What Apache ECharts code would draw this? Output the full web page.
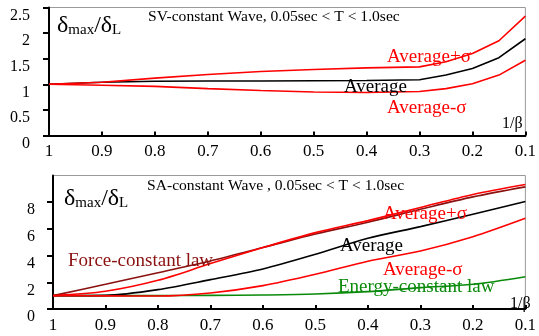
<!DOCTYPE html>
<html>
<head>
<meta charset="utf-8">
<script src="https://cdn.jsdelivr.net/npm/echarts@6/dist/echarts.min.js"></script>
<style>
  html, body { margin: 0; padding: 0; background: #fff; }
  #chart { width: 539px; height: 336px; }
</style>
</head>
<body>
<div id="chart"></div>
<script>
// top panel: SV-constant wave
var svX = [1, 0.9, 0.8, 0.7, 0.6, 0.5, 0.4, 0.3, 0.25, 0.2, 0.15, 0.1];
var svAvg = [1, 1.04, 1.06, 1.065, 1.065, 1.07, 1.075, 1.09, 1.18, 1.31, 1.52, 1.89];
var svPlus = [1, 1.04, 1.12, 1.19, 1.25, 1.29, 1.32, 1.34, 1.44, 1.6, 1.85, 2.33];
var svMinus = [1, 0.98, 0.96, 0.915, 0.88, 0.85, 0.84, 0.86, 0.915, 1.01, 1.18, 1.47];

// bottom panel: SA-constant wave
var saX = [1, 0.9, 0.8, 0.7, 0.6, 0.5, 0.4, 0.3, 0.2, 0.1];
var saForce = [1, 1.85, 2.72, 3.6, 4.6, 5.62, 6.5, 7.47, 8.4, 9.15];
var saPlus = [1, 1.33, 2.15, 3.4, 4.6, 5.72, 6.62, 7.6, 8.58, 9.33];
var saAvg = [1, 1.02, 1.45, 2.2, 3.0, 4.1, 5.3, 6.17, 7.1, 8.05];
var saMinus = [1, 0.98, 0.97, 1.2, 1.75, 2.6, 3.58, 4.35, 5.42, 6.8];
var saEnergy = [1, 1, 1, 1.02, 1.05, 1.12, 1.3, 1.6, 1.85, 2.42];

var FONT = "'Liberation Serif', 'Times New Roman', serif";

function pairs(xs, ys) {
  return xs.map(function (x, i) { return [x, ys[i]]; });
}

function xAxisFor(gi) {
  return {
    gridIndex: gi,
    type: 'value',
    inverse: true,
    min: 0.1,
    max: 1,
    interval: 0.1,
    axisLine: { lineStyle: { color: '#000', width: 2 } },
    axisTick: { inside: true, length: 4, lineStyle: { color: '#000', width: 2 } },
    axisLabel: {
      color: '#000', fontFamily: FONT, fontSize: 17, margin: 8,
      formatter: function (v) { return String(+v.toFixed(1)); }
    },
    splitLine: { show: false }
  };
}

function yAxisFor(gi, max, step, margin) {
  return {
    gridIndex: gi, type: 'value', min: 0, max: max, interval: step,
    axisLine: { show: true, lineStyle: { color: '#000', width: 2 } },
    axisTick: { show: true, length: 6, lineStyle: { color: '#000', width: 2 } },
    axisLabel: {
      color: '#000', fontFamily: FONT, fontSize: 16, margin: margin,
      verticalAlign: 'top', showMaxLabel: gi == 0
    },
    splitLine: { show: false }
  };
}

function line(name, xs, ys, color, gi) {
  return {
    name: name,
    type: 'line',
    xAxisIndex: gi,
    yAxisIndex: gi,
    data: pairs(xs, ys),
    showSymbol: false,
    smooth: gi == 1 ? 0.3 : false,
    lineStyle: { color: color, width: 1.6 },
    z: 3
  };
}

function label(text, x, y, color, size) {
  return {
    type: 'text',
    x: x,
    y: y,
    style: {
      text: text, fill: color, font: size + 'px ' + FONT,
      textVerticalAlign: 'middle'
    },
    z: 10
  };
}

function ratioLabel(x, y) {
  return {
    type: 'text',
    x: x,
    y: y,
    style: {
      text: '{d|δ}{s|max}{d|/δ}{s|L}',
      fill: '#000',
      textVerticalAlign: 'middle',
      rich: {
        d: { fontFamily: FONT, fontSize: 24, lineHeight: 26, verticalAlign: 'bottom', fill: '#000' },
        s: { fontFamily: FONT, fontSize: 15, lineHeight: 15, verticalAlign: 'bottom', fill: '#000' }
      }
    },
    z: 10
  };
}

var chart = echarts.init(document.getElementById('chart'));
var option = {
  animation: false,
  grid: [
    { left: 49, right: 7, top: 7.5, height: 128, show: true, borderColor: '#999', borderWidth: 1 },
    { left: 53, right: 7, top: 175.5, height: 133.5, show: true, borderColor: '#999', borderWidth: 1 }
  ],
  xAxis: [xAxisFor(0), xAxisFor(1)],
  yAxis: [yAxisFor(0, 2.5, 0.5, 19), yAxisFor(1, 10, 2, 18)],
  series: [
    line('Average', svX, svAvg, '#000', 0),
    line('Average+σ', svX, svPlus, '#ff0000', 0),
    line('Average-σ', svX, svMinus, '#ff0000', 0),
    line('Force-constant law', saX, saForce, '#8b1010', 1),
    line('Energy-constant law', saX, saEnergy, '#0a8a0a', 1),
    line('Average', saX, saAvg, '#000', 1),
    line('Average-σ', saX, saMinus, '#ff0000', 1),
    line('Average+σ', saX, saPlus, '#ff0000', 1)
  ],
  graphic: [
    ratioLabel(57, 25),
    label('SV-constant Wave, 0.05sec < T < 1.0sec', 148, 17, '#000', 15.6),
    label('Average+σ', 387, 57, '#ff0000', 19),
    label('Average', 344, 87, '#000', 19),
    label('Average-σ', 387, 108, '#ff0000', 19),
    label('1/β', 502, 124, '#000', 16),

    ratioLabel(64, 198),
    label('SA-constant Wave , 0.05sec < T < 1.0sec', 147, 186, '#000', 15.6),
    label('Force-constant law', 68, 261, '#8b1010', 19),
    label('Average+σ', 383, 214, '#ff0000', 19),
    label('Average', 340, 246, '#000', 19),
    label('Average-σ', 383, 270, '#ff0000', 19),
    label('Energy-constant law', 338, 287, '#0a8a0a', 19),
    label('1/β', 510, 304, '#000', 16)
  ]
};
chart.setOption(option);
</script>
</body>
</html>
